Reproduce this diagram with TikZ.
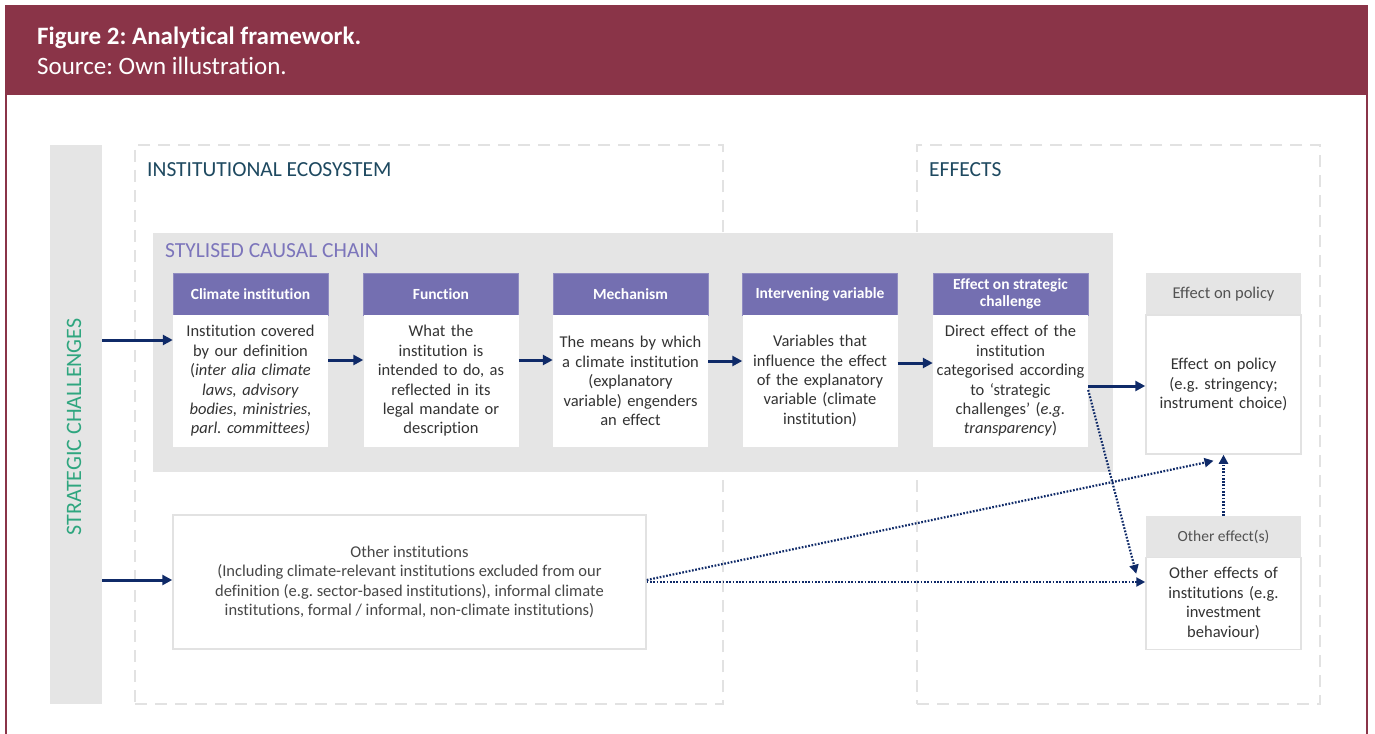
\documentclass[tikz,border=0pt]{standalone}
\usepackage{fontspec}
\setmainfont{Carlito}[Ligatures={NoCommon}]
\usetikzlibrary{arrows.meta,calc}
\definecolor{maroon}{HTML}{8A3448}
\definecolor{purp}{HTML}{746FB1}
\definecolor{purptxt}{HTML}{7C75BB}
\definecolor{lgray}{HTML}{E5E5E5}
\definecolor{dgray}{HTML}{E2E2E2}
\definecolor{navy}{HTML}{0F2A68}
\definecolor{grn}{HTML}{2FA67F}
\definecolor{teal}{HTML}{1E4960}
\definecolor{txt}{HTML}{333333}
\tikzset{
  hdr/.style={fill=purp, draw=purp!80!white, text=white, font=\bfseries\fontsize{15.5}{17.5}\selectfont,
    minimum width=155pt, minimum height=42pt, inner sep=0pt, align=center},
  bodybox/.style={fill=white, draw=none, text=txt, font=\fontsize{16.5}{19.4}\selectfont,
    minimum width=155pt, minimum height=132pt, inner sep=0pt, text width=152pt, align=center},
  ghdr/.style={fill=lgray, draw=none, text=txt!85!white, font=\fontsize{16.5}{19}\selectfont,
    minimum width=155pt, minimum height=42pt, inner sep=0pt, align=center},
  gbody/.style={fill=white, draw=dgray, line width=1.5pt, text=txt, font=\fontsize{16.5}{19.4}\selectfont,
    minimum width=155pt, inner sep=0pt, text width=152pt, align=center},
  dashbox/.style={draw=dgray, line width=2.5pt, dash pattern=on 12pt off 8pt, minimum height=559pt, inner sep=0pt},
  sectitle/.style={anchor=west, inner sep=0pt, font=\fontsize{21.5}{25}\selectfont},
  arr/.style={draw=navy, line width=3pt, -{Triangle[length=10pt,width=10pt]}},
  darr/.style={draw=navy, line width=2.2pt, dash pattern=on 1.7pt off 1.6pt, -{Triangle[length=9pt,width=9pt]}}
}
\begin{document}
\frenchspacing
\begin{tikzpicture}[x=1pt,y=-1pt]
\useasboundingbox (0,0) rectangle (1375,733);
\fill[white] (0,0) rectangle (1375,733);
% frame and header
\draw[maroon, line width=2pt] (6,740) -- (6,6) -- (1367,6) -- (1367,740);
\fill[maroon] (5,5) rectangle (1368,95);
\node[anchor=west, inner sep=0pt, text=white, font=\bfseries\fontsize{25}{28}\selectfont] (title) at (37,38) {Figure 2: Analytical framework.};
\node[anchor=west, inner sep=0pt, text=white, font=\fontsize{25}{28}\selectfont] (source) at (37,66) {Source: Own illustration.};
% dashed regions
\node[dashbox, minimum width=588pt] (eco) at (429,424.5) {};
\node[dashbox, minimum width=403pt] (eff) at (1118.5,424.5) {};
% strategic bar
\node[fill=lgray, minimum width=52pt, minimum height=559pt, inner sep=0pt] (bar) at (76,424.5) {};
\node[rotate=90, text=grn, font=\fontsize{22}{26}\selectfont, inner sep=0pt] (sc) at (74,427) {STRATEGIC CHALLENGES};
\node[sectitle, text=teal] (ecot) at (147,170) {INSTITUTIONAL ECOSYSTEM};
\node[sectitle, text=teal] (efft) at (929,170) {EFFECTS};
% chain
\node[fill=lgray, minimum width=960pt, minimum height=239pt, inner sep=0pt] (chain) at (633,352.5) {};
\node[sectitle, text=purptxt] (chaint) at (165,251) {STYLISED CAUSAL CHAIN};
\node[hdr] (h1) at (250.5,294) {Climate institution};
\node[hdr] (h2) at (441,294) {Function};
\node[hdr] (h3) at (630.5,294) {Mechanism};
\node[hdr] (h4) at (820,294) {Intervening variable};
\node[hdr] (h5) at (1010.5,294) {Effect on strategic\\challenge};
\node[bodybox] (b1) at (250.5,381) {Institution covered\\by our definition\\(\textit{inter alia climate}\\\textit{laws, advisory}\\\textit{bodies, ministries,}\\\textit{parl. committees)}};
\node[bodybox] (b2) at (441,381) {What the\\institution is\\intended to do, as\\reflected in its\\legal mandate or\\description};
\node[bodybox] (b3) at (630.5,381) {The means by which\\a climate institution\\(explanatory\\variable) engenders\\an effect};
\node[bodybox] (b4) at (820,381) {Variables that\\influence the effect\\of the explanatory\\variable (climate\\institution)};
\node[bodybox] (b5) at (1010.5,381) {Direct effect of the\\institution\\categorised according\\to ‘strategic\\challenges’ (\textit{e.g.}\\\textit{transparency})};
% effects boxes
\node[ghdr] (eph) at (1223.5,294) {Effect on policy};
\node[gbody, minimum height=139pt] (epb) at (1223.5,384.5) {Effect on policy\\(e.g. stringency;\\instrument choice)};
\node[ghdr, font=\fontsize{15.5}{18}\selectfont] (oeh) at (1223.5,537) {Other effect(s)};
\node[gbody, minimum height=92pt] (oeb) at (1223.5,603.5) {Other effects of\\institutions (e.g.\\investment\\behaviour)};
% other institutions
\node[fill=white, draw=dgray, line width=1.5pt, minimum width=473pt, minimum height=134pt, inner sep=0pt,
  text=txt!90!white, align=center, font=\fontsize{16.5}{19.4}\selectfont] (oi) at (409.5,582)
  {Other institutions\\(Including climate-relevant institutions excluded from our\\definition (e.g. sector-based institutions), informal climate\\institutions, formal / informal, non-climate institutions)};
% arrows
\draw[arr] (bar.east |- 0,340) -- (b1.west |- 0,340);
\draw[arr] (bar.east |- 0,580) -- (oi.west |- 0,580);
\draw[arr] (b1.east |- 0,360) -- (b2.west |- 0,360);
\draw[arr] (b2.east |- 0,360) -- (b3.west |- 0,360);
\draw[arr] (b3.east |- 0,361) -- (b4.west |- 0,361);
\draw[arr] (b4.east |- 0,363) -- (b5.west |- 0,363);
\draw[arr] (b5.east |- 0,386) -- (epb.west |- 0,386);
\draw[darr] (b5.east |- 0,390) -- ($(oeb.north west)+(-9,17)$);
\draw[darr] (oi.east |- 0,580) -- ($(epb.south)+(-10,6)$);
\draw[darr] (oi.east |- 0,582) -- (oeb.west |- 0,582);
\draw[darr] (oeh.north) -- (epb.south);
\end{tikzpicture}
\end{document}
